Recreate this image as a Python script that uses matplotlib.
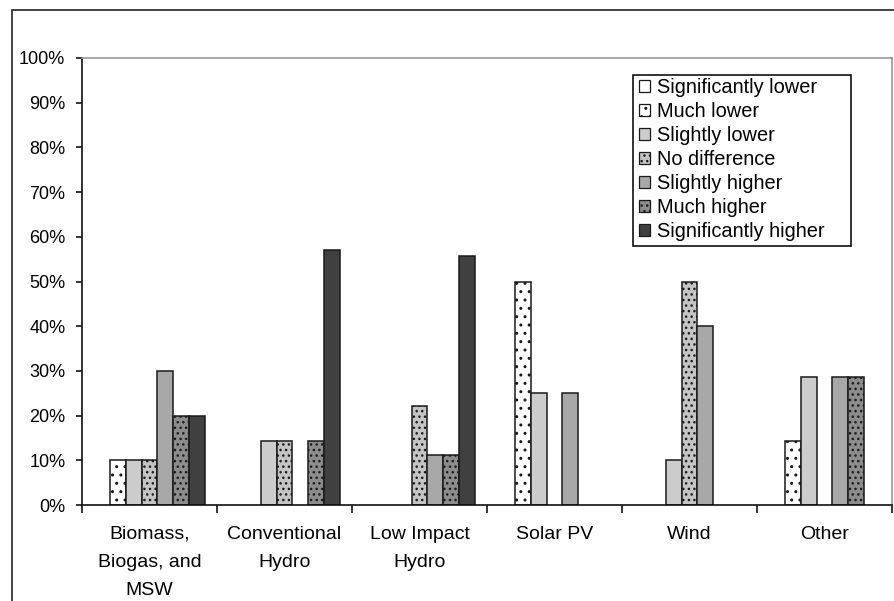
import numpy as np
import matplotlib
matplotlib.use("Agg")
import matplotlib.pyplot as plt
from matplotlib.patches import Patch, Rectangle

plt.rcParams["font.family"] = ["Liberation Sans", "DejaVu Sans"]
plt.rcParams["hatch.linewidth"] = 1.0

categories = ["Biomass,\nBiogas, and\nMSW", "Conventional\nHydro", "Low Impact\nHydro",
              "Solar PV", "Wind", "Other"]
series = ["Significantly lower", "Much lower", "Slightly lower", "No difference",
          "Slightly higher", "Much higher", "Significantly higher"]

sig_lower   = [0, 0, 0, 0, 0, 0]
much_lower  = [10, 0, 0, 50, 0, 14.3]
sl_lower    = [10, 14.3, 0, 25, 10, 28.6]
no_diff     = [10, 14.3, 22.2, 0, 50, 0]
sl_higher   = [30, 0, 11.1, 25, 40, 28.6]
much_higher = [20, 14.3, 11.1, 0, 0, 28.6]
sig_higher  = [20, 57.1, 55.6, 0, 0, 0]
values = [sig_lower, much_lower, sl_lower, no_diff, sl_higher, much_higher, sig_higher]

faces = ["white", "white", "#cccccc", "#c4c4c4", "#a8a8a8", "#8c8c8c", "#404040"]
hatches = [None, "..", None, "...", None, "...", None]
edge = "#1a1a1a"

fig = plt.figure(figsize=(8.95, 6.01), dpi=100)
W, H = 895, 601
ax = fig.add_axes([82 / W, 1 - 505 / H, (892 - 82) / W, (505 - 58) / H])

# outer chart border (only left and top visible in the crop)
fig.patches.append(Rectangle((12 / W, -0.1), 1.2, 1.1 - 10 / H, transform=fig.transFigure,
                             fill=False, edgecolor="#222222", linewidth=1.2))

x = np.arange(len(categories))
w = 0.1185
for i, (vals, fc, h) in enumerate(zip(values, faces, hatches)):
    v = np.array(vals, dtype=float)
    m = v > 0
    ax.bar(x[m] + (i - 3) * w, v[m], width=w, color=fc, hatch=h,
           edgecolor=edge, linewidth=1.1, zorder=2)

ax.set_xlim(-0.5, len(categories) - 0.5)
ax.set_ylim(0, 100)
ax.set_yticks(np.arange(0, 101, 10))
ax.set_yticklabels([f"{v}%" for v in range(0, 101, 10)], fontsize=13)
ax.tick_params(axis="y", direction="out", length=4, width=1.1, pad=8)

ax.set_xticks(np.arange(-0.5, len(categories)), labels=[""] * (len(categories) + 1))
ax.tick_params(axis="x", which="major", direction="out", length=6, width=1.1)
ax.set_xticks(x, labels=categories, minor=True)
ax.tick_params(axis="x", which="minor", length=0, pad=15, labelsize=14)
for lbl in ax.get_xticklabels(minor=True):
    lbl.set_linespacing(1.85)

for s in ["left", "bottom"]:
    ax.spines[s].set_color("#111111")
    ax.spines[s].set_linewidth(1.2)
for s in ["top", "right"]:
    ax.spines[s].set_color("#999999")
    ax.spines[s].set_linewidth(1.2)

# legend box drawn separately (Excel style, extra room on the right)
fig.patches.append(Rectangle((633 / W, 1 - 246 / H), (851 - 633) / W, (246 - 75) / H,
                             transform=fig.transFigure, facecolor="white",
                             edgecolor="#111111", linewidth=1.2, zorder=3))
handles = [Patch(facecolor=fc, edgecolor=edge, hatch=h, linewidth=0.9)
           for fc, h in zip(faces, hatches)]
leg = fig.legend(handles, series, loc="upper left", bbox_to_anchor=(636 / W, 1 - 75 / H),
                 fontsize=14.4, frameon=False,
                 handlelength=0.55, handleheight=0.55, handletextpad=0.35,
                 labelspacing=0.25, borderpad=0.15, borderaxespad=0)
leg.set_zorder(4)

fig.savefig("out.png", dpi=100)
